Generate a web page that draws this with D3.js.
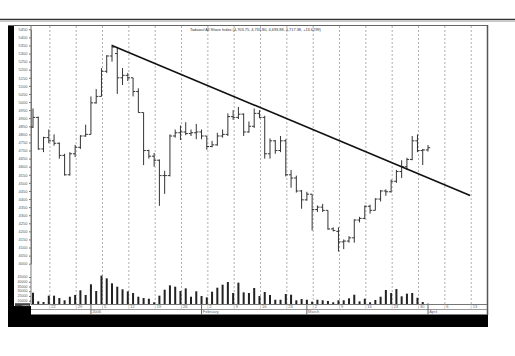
<!DOCTYPE html>
<html>
<head>
<meta charset="utf-8">
<script src="https://cdn.jsdelivr.net/npm/d3@7"></script>
<style>
body { margin: 0; background: #fff; }
svg { display: block; }
text { font-family: "Liberation Sans", Arial, sans-serif; }
</style>
</head>
<body>
<svg id="chart" width="515" height="356"></svg>
<script>
// daily OHLC, Tadawul All Share Index, late Dec 2005 - early Apr 2006
const opens = [4845, 4905, 4710, 4780, 4760, 4745, 4670, 4550, 4680, 4720, 4790, 4800, 4995, 5035, 5190, 5285, 5300, 5150, 5165, 5150,
  5065, 4935, 4700, 4665, 4640, 4545, 4545, 4790, 4810, 4815, 4805, 4810, 4815, 4790, 4725, 4735, 4790, 4800, 4910, 4905,
  4925, 4815, 4850, 4930, 4905, 4680, 4760, 4700, 4760, 4550, 4530, 4450, 4395, 4430, 4335, 4350, 4330, 4215, 4200, 4135,
  4140, 4160, 4270, 4280, 4355, 4330, 4400, 4450, 4445, 4510, 4570, 4600, 4645, 4760, 4700, 4703.75]
const highs = [4960, 4910, 4785, 4830, 4800, 4750, 4680, 4690, 4735, 4795, 4860, 5035, 5080, 5210, 5290, 5355, 5335, 5210, 5180, 5150,
  5085, 4935, 4705, 4685, 4645, 4575, 4800, 4830, 4855, 4875, 4830, 4865, 4830, 4790, 4760, 4810, 4830, 4930, 4950, 4970,
  4930, 4880, 4960, 4950, 4915, 4775, 4765, 4790, 4770, 4580, 4545, 4456, 4445, 4430, 4360, 4370, 4330, 4225, 4225, 4150,
  4170, 4275, 4290, 4360, 4365, 4405, 4455, 4460, 4520, 4580, 4640, 4655, 4790, 4800, 4710, 4733.80]
const lows = [4840, 4705, 4690, 4745, 4730, 4650, 4545, 4545, 4660, 4710, 4785, 4800, 4990, 5035, 5180, 5250, 5050, 5105, 5130, 5035,
  4935, 4610, 4650, 4600, 4358, 4432, 4540, 4780, 4765, 4795, 4790, 4770, 4770, 4705, 4720, 4730, 4780, 4790, 4890, 4895,
  4790, 4810, 4840, 4900, 4650, 4650, 4680, 4690, 4540, 4470, 4440, 4340, 4390, 4205, 4320, 4320, 4210, 4200, 4075, 4090,
  4130, 4130, 4255, 4275, 4310, 4330, 4385, 4420, 4440, 4500, 4530, 4580, 4640, 4690, 4610, 4693.88]
const closes = [4905, 4710, 4780, 4760, 4745, 4670, 4550, 4680, 4720, 4790, 4800, 4995, 5035, 5190, 5285, 5340, 5150, 5165, 5150, 5065,
  4935, 4700, 4665, 4640, 4545, 4545, 4790, 4810, 4815, 4805, 4810, 4815, 4790, 4725, 4735, 4790, 4800, 4910, 4905, 4925,
  4815, 4850, 4930, 4905, 4680, 4760, 4700, 4760, 4550, 4530, 4450, 4395, 4430, 4335, 4350, 4330, 4215, 4205, 4135, 4140,
  4160, 4270, 4280, 4355, 4330, 4400, 4450, 4445, 4510, 4570, 4600, 4645, 4760, 4700, 4703.75, 4717.38]
const volumes = [28400, 19300, 18600, 25300, 25300, 22800, 20400, 24200, 26000, 31000, 26000, 37300, 30200, 46500, 43600, 38300, 34800, 32000, 29900, 28100,
  24200, 22800, 22100, 18300, 25300, 31600, 36200, 34800, 30200, 33000, 24200, 29900, 24900, 23500, 29500, 33700, 36900, 39700, 28100, 39000,
  28800, 28100, 33400, 24900, 29200, 26000, 21000, 21000, 27000, 26300, 20400, 21800, 21000, 19000, 21000, 20400, 19700, 18300, 20400, 20400,
  22500, 26300, 19300, 22100, 18300, 20700, 24200, 31300, 28100, 32300, 24600, 27400, 28100, 23100, 18600, 16800]

const weekLabels = ['22', '29', '5', '12', '19', '26', '2', '9', '16', '23', '2', '9', '16', '23', '30', '6', '13']
const monthLabels = ['2006', 'February', 'March', 'April']
const monthStartDay = [11, 32, 52, 75]
const priceTicks = d3.range(4000, 5451, 50)
const volumeTicks = [20000, 25000, 30000, 35000, 40000, 45000]
const trendLine = [{ day: 15, value: 5350 }, { day: 83, value: 4422 }]
const title = 'Tadawul All Share Index (4,703.75, 4,733.80, 4,693.88, 4,717.38, +13.6299)'

const svg = d3.select('#chart')
const plotLeft = 31, plotRight = 487, plotTop = 26, axisY = 304.5

const x = d3.scaleLinear().domain([0, 75]).range([33, 428])
const y = d3.scaleLinear().domain([4000, 5450]).range([263.7, 29.3])
const yVol = d3.scaleLinear().domain([16500, 45000]).range([304, 277])

const days = opens.map((o, i) => ({ i, o, h: highs[i], l: lows[i], c: closes[i], v: volumes[i] }))

// top rule across the page
svg.append('line').attr('x1', 0).attr('x2', 515).attr('y1', 19.5).attr('y2', 19.5)
  .attr('stroke', '#333').attr('stroke-width', 1.6)
svg.append('line').attr('x1', 0).attr('x2', 515).attr('y1', 21.5).attr('y2', 21.5)
  .attr('stroke', '#bbb').attr('stroke-width', 0.8)

// frame
svg.append('rect').attr('x', 8).attr('y', 25).attr('width', 6).attr('height', 302).attr('fill', '#000')
svg.append('rect').attr('x', 8).attr('y', 306).attr('width', 23).attr('height', 21).attr('fill', '#000')
svg.append('rect').attr('x', 8).attr('y', 314.5).attr('width', 480).attr('height', 12.5).attr('fill', '#000')
svg.append('line').attr('x1', 8).attr('x2', 488).attr('y1', 25.5).attr('y2', 25.5).attr('stroke', '#666')
svg.append('line').attr('x1', 487.5).attr('x2', 487.5).attr('y1', 25).attr('y2', 315).attr('stroke', '#555').attr('stroke-width', 1.5)

// weekly gridlines
const gridDays = weekLabels.map((d, k) => 3.2 + 5 * k)
svg.append('g').selectAll('line').data(gridDays).join('line')
  .attr('x1', d => x(d)).attr('x2', d => x(d))
  .attr('y1', plotTop).attr('y2', axisY)
  .attr('stroke', '#999').attr('stroke-width', 0.8).attr('stroke-dasharray', '2,2')

// price axis
const gy = svg.append('g').attr('transform', `translate(${plotLeft},0)`)
  .call(d3.axisLeft(y).tickValues(priceTicks).tickFormat(d3.format('d')).tickSize(2).tickPadding(1.5).tickSizeOuter(0))
gy.select('.domain').attr('stroke', '#777')
gy.selectAll('line').attr('stroke', '#777')
gy.selectAll('text').attr('font-size', 4).attr('fill', '#555')
svg.append('line').attr('x1', plotLeft).attr('x2', plotLeft).attr('y1', plotTop).attr('y2', axisY).attr('stroke', '#777')

// volume axis
const gv = svg.append('g').attr('transform', `translate(${plotLeft},0)`)
  .call(d3.axisLeft(yVol).tickValues(volumeTicks).tickFormat(d3.format('d')).tickSize(2).tickPadding(1.5))
gv.select('.domain').remove()
gv.selectAll('line').attr('stroke', '#777')
gv.selectAll('text').attr('font-size', 3.6).attr('fill', '#555').attr('dy', '0.2em')
svg.append('rect').attr('x', 15).attr('y', 303.2).attr('width', 15).attr('height', 3).attr('fill', '#444')
svg.append('text').attr('x', 29).attr('y', 305.8).attr('text-anchor', 'end')
  .attr('font-size', 2.5).attr('fill', '#fff').text(d3.format('d')(volumes[volumes.length - 1]))

// volume bars
svg.append('g').selectAll('rect').data(days).join('rect')
  .attr('x', d => x(d.i) - 1).attr('width', 2)
  .attr('y', d => yVol(d.v)).attr('height', d => yVol.range()[0] - yVol(d.v))
  .attr('fill', '#222')

// OHLC bars
const bars = svg.append('g').attr('stroke', '#333').attr('stroke-width', 1)
bars.selectAll('line.hl').data(days).join('line').attr('class', 'hl')
  .attr('x1', d => x(d.i)).attr('x2', d => x(d.i)).attr('y1', d => y(d.h)).attr('y2', d => y(d.l))
bars.selectAll('line.op').data(days).join('line').attr('class', 'op')
  .attr('x1', d => x(d.i) - 2.2).attr('x2', d => x(d.i)).attr('y1', d => y(d.o)).attr('y2', d => y(d.o))
bars.selectAll('line.cl').data(days).join('line').attr('class', 'cl')
  .attr('x1', d => x(d.i)).attr('x2', d => x(d.i) + 2.2).attr('y1', d => y(d.c)).attr('y2', d => y(d.c))

// trend line
svg.append('path').datum(trendLine)
  .attr('d', d3.line().x(d => x(d.day)).y(d => y(d.value)))
  .attr('fill', 'none').attr('stroke', '#111').attr('stroke-width', 1.6)

// title
svg.append('text').attr('x', 190).attr('y', 30.5).attr('font-size', 3.9).attr('fill', '#333').text(title)

// date axis
svg.append('line').attr('x1', plotLeft).attr('x2', plotRight).attr('y1', axisY).attr('y2', axisY).attr('stroke', '#777')
svg.append('line').attr('x1', plotLeft).attr('x2', plotRight).attr('y1', 309.5).attr('y2', 309.5).attr('stroke', '#999')
svg.append('g').selectAll('text').data(weekLabels).join('text')
  .attr('x', (d, k) => x(gridDays[k]) + 1.5).attr('y', 308.3)
  .attr('font-size', 4).attr('fill', '#666').text(d => d)
svg.append('g').selectAll('line').data(gridDays).join('line')
  .attr('x1', d => x(d)).attr('x2', d => x(d)).attr('y1', axisY).attr('y2', 309.5)
  .attr('stroke', '#aaa').attr('stroke-dasharray', '1,1')
svg.append('g').selectAll('line').data(monthStartDay).join('line')
  .attr('x1', d => x(d)).attr('x2', d => x(d)).attr('y1', axisY).attr('y2', 314.5)
  .attr('stroke', '#666')
svg.append('g').selectAll('text').data(monthLabels).join('text')
  .attr('x', (d, k) => x(monthStartDay[k]) + 1.2).attr('y', 313.4)
  .attr('font-size', 4).attr('fill', '#666').text(d => d)
</script>
</body>
</html>
